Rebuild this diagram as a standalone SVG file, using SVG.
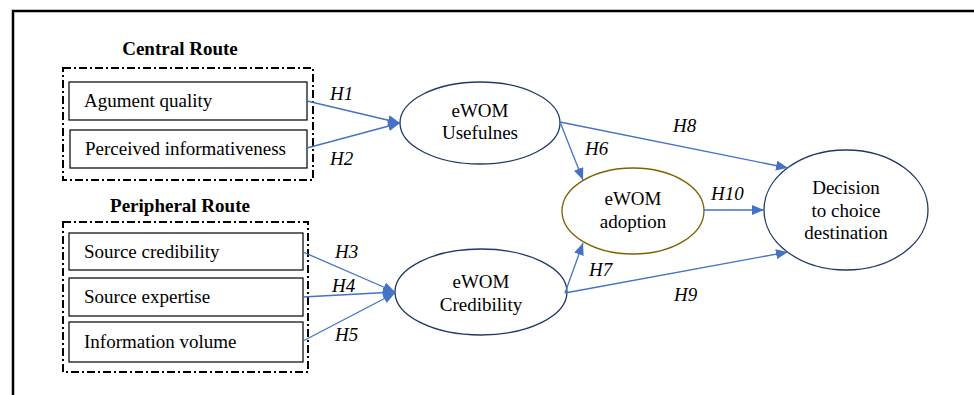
<svg xmlns="http://www.w3.org/2000/svg" width="974" height="395" viewBox="0 0 974 395">
<style>
text{font-family:"Liberation Serif","Times New Roman",serif;font-size:19px;fill:#000}
.b{font-weight:bold}
.h{font-style:italic}
.m{text-anchor:middle}
.box{fill:#fff;stroke:#000;stroke-width:1.2}
.grp{fill:none;stroke:#000;stroke-width:2;stroke-dasharray:8 3 2 3}
.ell{fill:#fff;stroke:#1F3864;stroke-width:1.3}
.con line{stroke:#4472C4;stroke-width:1.3;marker-end:url(#ah)}
</style>
<defs>
<marker id="ah" markerUnits="userSpaceOnUse" viewBox="0 0 12 10" markerWidth="12" markerHeight="10" refX="12" refY="5" orient="auto">
<path d="M0,0 L12,5 L0,10 z" fill="#4472C4"/>
</marker>
</defs>
<rect width="974" height="395" fill="#fff"/>
<rect x="13" y="11" width="1000" height="500" fill="none" stroke="#000" stroke-width="2.5"/>
<g id="central">
<text class="b m" x="180" y="55">Central Route</text>
<rect class="grp" x="63" y="68" width="250" height="112"/>
</g>
<g id="argument"><rect class="box" x="69" y="82" width="238" height="38"/><text x="84" y="107">Agument quality</text></g>
<g id="informativeness"><rect class="box" x="70" y="130" width="237" height="38"/><text x="85" y="155">Perceived informativeness</text></g>
<g id="peripheral">
<text class="b m" x="180" y="212">Peripheral Route</text>
<rect class="grp" x="63" y="222" width="245" height="150"/>
</g>
<g id="credibility"><rect class="box" x="69" y="233" width="234" height="37"/><text x="84" y="258">Source credibility</text></g>
<g id="expertise"><rect class="box" x="69" y="278" width="234" height="38"/><text x="84" y="303">Source expertise</text></g>
<g id="volume"><rect class="box" x="69" y="322" width="234" height="40"/><text x="84" y="348">Information volume</text></g>
<g id="usefulness"><ellipse class="ell" cx="480" cy="123" rx="80" ry="41"/><text class="m" x="480" y="117">eWOM</text><text class="m" x="480" y="139">Usefulnes</text></g>
<g id="ecredibility"><ellipse class="ell" cx="481" cy="292" rx="86" ry="43"/><text class="m" x="481" y="288">eWOM</text><text class="m" x="481" y="311">Credibility</text></g>
<g id="adoption"><ellipse cx="633" cy="211" rx="71" ry="43" fill="#fff" stroke="#7F6000" stroke-width="1.3"/><text class="m" x="633" y="205">eWOM</text><text class="m" x="633" y="228">adoption</text></g>
<g id="decision"><ellipse class="ell" cx="846" cy="210" rx="82" ry="60"/><text class="m" x="846" y="194">Decision</text><text class="m" x="846" y="217">to choice</text><text class="m" x="846" y="239">destination</text></g>
<g id="connectors" class="con">
<line x1="307" y1="101" x2="400" y2="123"/>
<line x1="307" y1="148" x2="400" y2="123"/>
<line x1="303" y1="252" x2="395" y2="292"/>
<line x1="303" y1="297" x2="395" y2="292"/>
<line x1="303" y1="341" x2="395" y2="293"/>
<line x1="560" y1="122" x2="583" y2="180"/>
<line x1="560" y1="122" x2="788" y2="168"/>
<line x1="704" y1="210" x2="764" y2="210"/>
<line x1="565" y1="293" x2="583" y2="243"/>
<line x1="565" y1="293" x2="788" y2="252"/>
</g>
<g id="labels">
<text class="h" x="330" y="100">H1</text>
<text class="h" x="330" y="165">H2</text>
<text class="h" x="335" y="258">H3</text>
<text class="h" x="332" y="292">H4</text>
<text class="h" x="335" y="341">H5</text>
<text class="h" x="585" y="155">H6</text>
<text class="h" x="589" y="276">H7</text>
<text class="h" x="673" y="132">H8</text>
<text class="h" x="674" y="301">H9</text>
<text class="h" x="711" y="200">H10</text>
</g>
</svg>
